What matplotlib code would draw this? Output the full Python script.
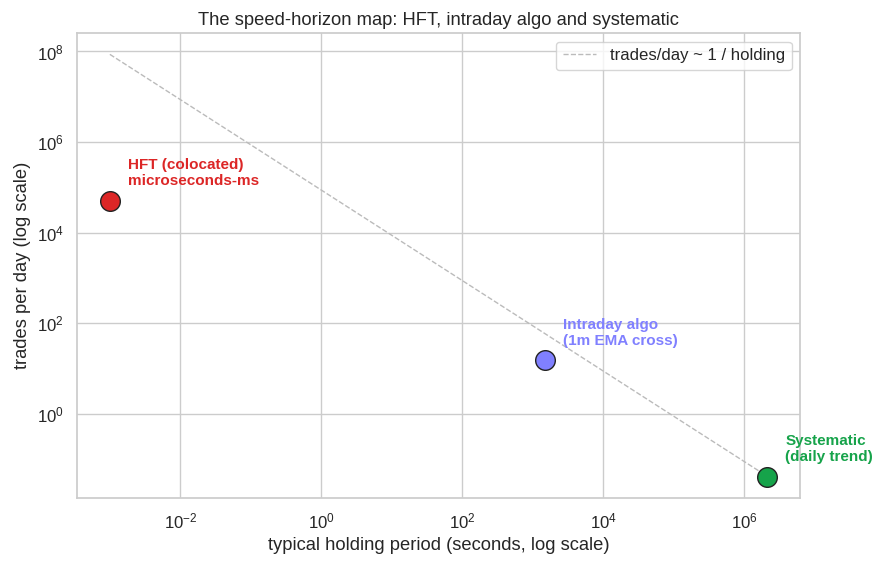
import numpy as np
import seaborn as sns
import matplotlib
matplotlib.use("Agg")
import matplotlib.pyplot as plt

# holding period in seconds, trades per day
names = ["HFT (colocated)\nmicroseconds-ms", "Intraday algo\n(1m EMA cross)", "Systematic\n(daily trend)"]
holding = [1e-3, 1500, 2.1e6]
trades = [5e4, 15, 0.04]
colors = ["#dc2626", "#8080ff", "#16a34a"]

sns.set_theme(style="whitegrid", font_scale=1.1)
plt.rcParams["font.family"] = ["Liberation Sans", "DejaVu Sans"]

fig, ax = plt.subplots(figsize=(8.85, 5.73), dpi=100)

# reference line: trades/day ~ 86400 / holding
hx = np.logspace(np.log10(holding[0]), np.log10(holding[-1]), 50)
ax.plot(hx, 86400 / hx, "--", color="#bbbbbb", linewidth=1, label="trades/day ~ 1 / holding")

for n, h, t, c in zip(names, holding, trades, colors):
    ax.scatter(h, t, s=200, color=c, edgecolor="#222222", linewidth=1, zorder=3)
    ax.annotate(n, (h, t), xytext=(13, 9), textcoords="offset points",
                ha="left", va="bottom", color=c, fontweight="bold", fontsize=11)

ax.set_xscale("log")
ax.set_yscale("log")
ax.set_xlabel("typical holding period (seconds, log scale)")
ax.set_ylabel("trades per day (log scale)")
ax.set_title("The speed-horizon map: HFT, intraday algo and systematic")
ax.legend(loc="upper right")

fig.subplots_adjust(left=0.087, right=0.904, top=0.942, bottom=0.131)
fig.savefig("out.png")
